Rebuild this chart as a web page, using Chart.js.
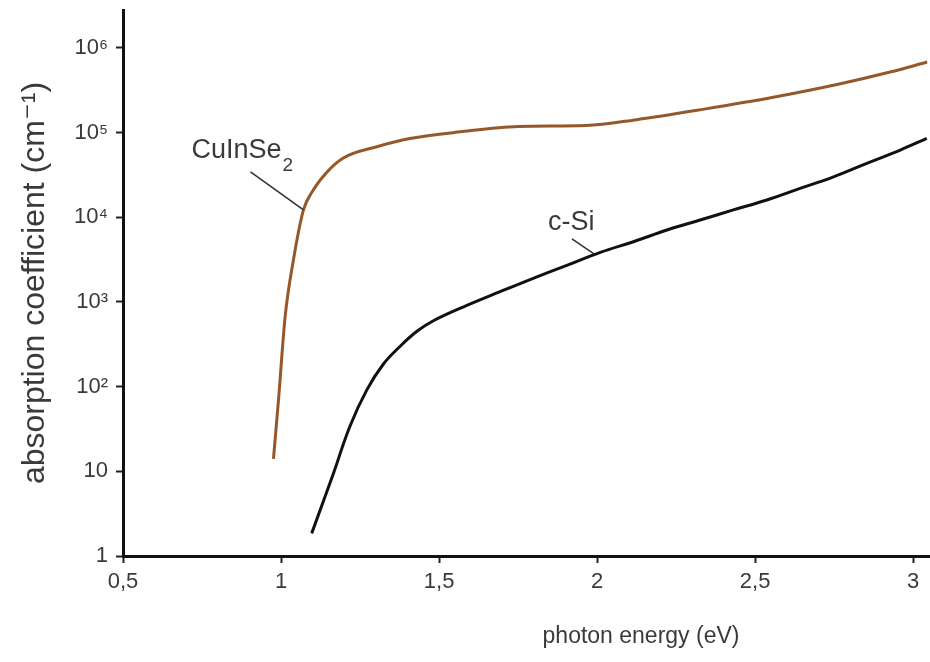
<!DOCTYPE html>
<html>
<head>
<meta charset="utf-8">
<script src="https://cdn.jsdelivr.net/npm/chart.js@4/dist/chart.umd.min.js"></script>
<style>
  html, body { margin: 0; padding: 0; background: #ffffff; }
  #wrap { width: 930px; height: 662px; }
</style>
</head>
<body>
<div id="wrap"><canvas id="c" width="930" height="662"></canvas></div>
<script>
// ---- data ----
const cuinseEnergy = [0.976, 0.992, 1.013, 1.039, 1.071, 1.102, 1.145, 1.197, 1.303, 1.408, 1.567, 1.750, 1.965, 2.125, 2.339, 2.553, 2.766, 2.927, 3.044];
const cuinseAlpha  = [14, 70, 670, 3100, 12200, 21000, 34000, 50000, 68000, 85000, 102000, 118000, 121000, 142000, 189000, 259000, 374000, 518000, 680000];

const siEnergy = [1.097, 1.166, 1.218, 1.271, 1.324, 1.377, 1.430, 1.482, 1.588, 1.693, 1.798, 1.904, 2.010, 2.115, 2.221, 2.326, 2.431, 2.537, 2.642, 2.748, 2.853, 2.959, 3.043];
const siAlpha  = [1.85, 9.5, 34, 91, 185, 300, 450, 600, 910, 1320, 1900, 2700, 3850, 5140, 7060, 9270, 12200, 16000, 21900, 30000, 43300, 62100, 85500];

const xTickValues = [0.5, 1, 1.5, 2, 2.5, 3];
const xTickLabels = ['0,5', '1', '1,5', '2', '2,5', '3'];
const yTickValues = [1, 10, 100, 1000, 10000, 100000, 1000000];
const yTickLabels = ['1', '10', '10²', '10³', '10⁴', '10⁵', '10⁶'];

const seriesNames = ['CuInSe₂', 'c-Si'];
const xTitle = 'photon energy (eV)';
const yTitle = 'absorption coefficient (cm⁻¹)';

// annotation anchors on the curves (data coordinates)
const cuinseAnchor = { x: 1.071, y: 12200 };
const siAnchor = { x: 1.99, y: 3700 };

const toPoints = (xs, ys) => xs.map((x, i) => ({ x: x, y: ys[i] }));

const FONT = "'Liberation Sans', Arial, 'DejaVu Sans', sans-serif";
const TEXT = '#3a3a3a';

const annotationPlugin = {
  id: 'annots',
  afterDatasetsDraw(chart) {
    const ctx = chart.ctx;
    const xs = chart.scales.x, ys = chart.scales.y;
    ctx.save();
    ctx.fillStyle = TEXT;
    ctx.strokeStyle = '#333';
    ctx.lineWidth = 1.6;
    ctx.textBaseline = 'alphabetic';
    ctx.textAlign = 'left';

    // CuInSe2 label
    let ax = xs.getPixelForValue(cuinseAnchor.x), ay = ys.getPixelForValue(cuinseAnchor.y);
    ctx.beginPath(); ctx.moveTo(ax, ay); ctx.lineTo(ax - 53, ay - 38); ctx.stroke();
    ctx.font = '27px ' + FONT;
    const main = 'CuInSe';
    ctx.fillText(main, ax - 112, ay - 52);
    const w = ctx.measureText(main).width;
    ctx.font = '19px ' + FONT;
    ctx.fillText('2', ax - 112 + w + 1, ay - 39);

    // c-Si label
    ax = xs.getPixelForValue(siAnchor.x); ay = ys.getPixelForValue(siAnchor.y);
    ctx.beginPath(); ctx.moveTo(ax, ay); ctx.lineTo(ax - 22, ay - 15); ctx.stroke();
    ctx.font = '27px ' + FONT;
    ctx.fillText(seriesNames[1], ax - 46, ay - 24);

    // x-axis title
    ctx.font = '23px ' + FONT;
    ctx.textAlign = 'center';
    ctx.fillText(xTitle, 641, 643);
    ctx.restore();
  }
};

const chart = new Chart(document.getElementById('c'), {
  type: 'line',
  data: {
    datasets: [
      {
        label: seriesNames[0],
        data: toPoints(cuinseEnergy, cuinseAlpha),
        borderColor: '#94582a',
        borderWidth: 3,
        pointRadius: 0,
        cubicInterpolationMode: 'monotone',
        fill: false
      },
      {
        label: seriesNames[1],
        data: toPoints(siEnergy, siAlpha),
        borderColor: '#111111',
        borderWidth: 3,
        pointRadius: 0,
        tension: 0.4,
        fill: false
      }
    ]
  },
  options: {
    responsive: false,
    animation: false,
    layout: { padding: { left: 0, right: 1, top: 10, bottom: 0 } },
    plugins: {
      legend: { display: false },
      tooltip: { enabled: false }
    },
    scales: {
      x: {
        type: 'linear',
        min: 0.5,
        max: 3.05,
        afterBuildTicks: (s) => { s.ticks = xTickValues.map(v => ({ value: v })); },
        afterFit: (s) => { s.height = 106; s.paddingLeft = 0; s.paddingRight = 0; },
        ticks: {
          callback: (v) => { const i = xTickValues.indexOf(v); return i >= 0 ? xTickLabels[i] : ''; },
          font: { family: FONT, size: 22 },
          color: TEXT,
          padding: 6,
          maxRotation: 0,
          autoSkip: false
        },
        grid: { drawOnChartArea: false, drawTicks: true, tickLength: 7, tickColor: '#222', tickWidth: 2 },
        border: { display: true, color: '#111', width: 3 }
      },
      y: {
        type: 'logarithmic',
        min: 1,
        max: 2800000,
        afterBuildTicks: (s) => { s.ticks = yTickValues.map(v => ({ value: v })); },
        afterFit: (s) => { s.width = 123; s.paddingTop = 0; s.paddingBottom = 0; },
        ticks: {
          callback: (v) => { const i = yTickValues.indexOf(v); return i >= 0 ? yTickLabels[i] : ''; },
          font: { family: FONT, size: 22 },
          color: TEXT,
          padding: 8,
          autoSkip: false
        },
        title: {
          display: true,
          text: yTitle,
          font: { family: FONT, size: 32 },
          color: TEXT,
          padding: { top: 16, bottom: 0 }
        },
        grid: { drawOnChartArea: false, drawTicks: true, tickLength: 7, tickColor: '#222', tickWidth: 2 },
        border: { display: true, color: '#111', width: 3 }
      }
    }
  },
  plugins: [annotationPlugin]
});
</script>
</body>
</html>
